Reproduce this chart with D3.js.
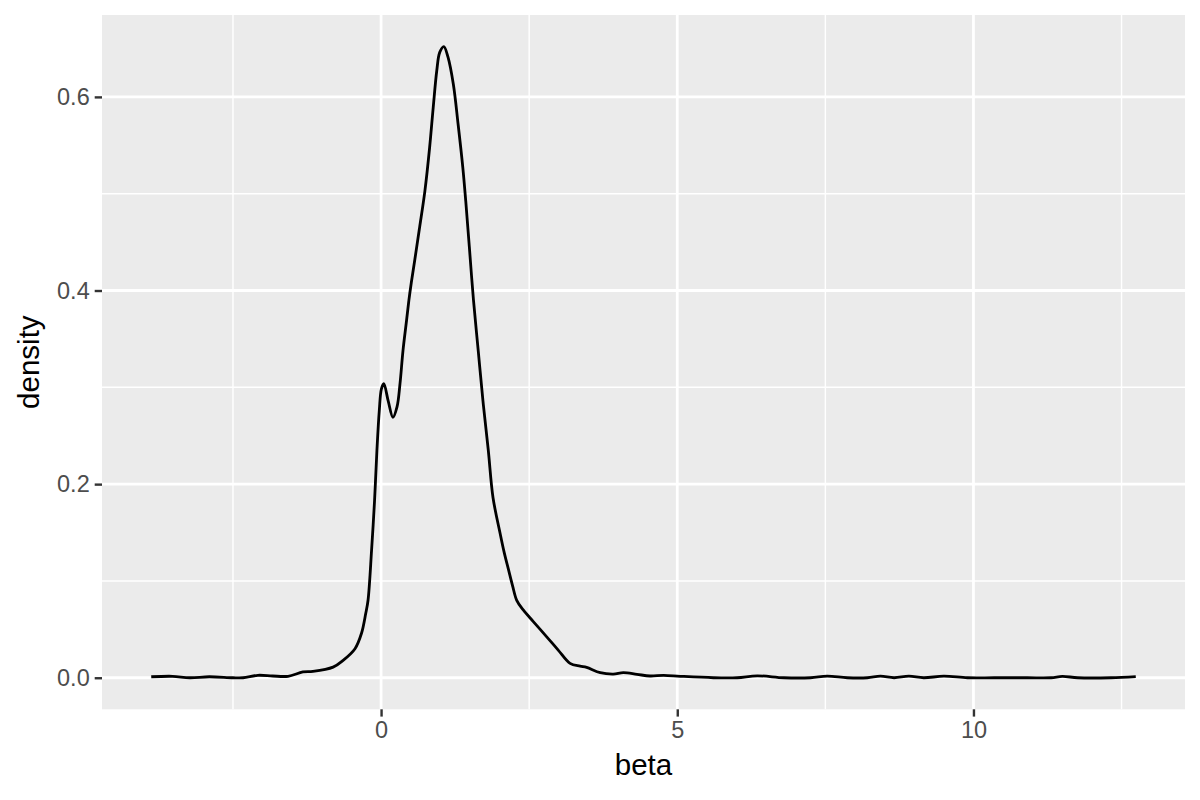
<!DOCTYPE html>
<html>
<head>
<meta charset="utf-8">
<script src="https://cdn.jsdelivr.net/npm/d3@7"></script>
<style>
  body { margin: 0; background: #fff; }
  svg { display: block; font-family: "Liberation Sans", Arial, sans-serif; }
</style>
</head>
<body>
<div id="chart"></div>
<script>
// Density estimate of beta.
const betaValues = [
  -3.88, -3.52, -3.23, -2.90, -2.50, -2.33, -2.08, -1.83, -1.57, -1.32,
  -1.15, -0.81, -0.64, -0.44, -0.33, -0.26, -0.22, -0.16, -0.11, -0.07,
  -0.03, 0.006, 0.046, 0.12, 0.20, 0.27, 0.32, 0.37, 0.43, 0.47,
  0.51, 0.57, 0.65, 0.74, 0.82, 0.88, 0.94, 0.99, 1.06, 1.13,
  1.22, 1.30, 1.38, 1.43, 1.49, 1.56, 1.64, 1.72, 1.81, 1.89,
  2.01, 2.08, 2.15, 2.22, 2.29, 2.40, 2.57, 2.80, 2.99, 3.19, 3.36,
  3.47, 3.70, 3.92, 4.09, 4.32, 4.54, 4.77, 5.05, 5.61, 6.01,
  6.35, 6.80, 7.25, 7.53, 7.87, 8.21, 8.43, 8.66, 8.91, 9.16,
  9.50, 9.90, 10.35, 10.91, 11.31, 11.50, 11.76, 12.32, 12.74
];
const densityValues = [
  0.001, 0.0015, 0.0, 0.001, 0.0, 0.0, 0.0025, 0.0018, 0.0015, 0.006,
  0.0066, 0.011, 0.018, 0.030, 0.046, 0.066, 0.080, 0.132, 0.183, 0.235,
  0.276, 0.2985, 0.3037, 0.286, 0.269, 0.280, 0.304, 0.338, 0.369, 0.390,
  0.408, 0.432, 0.465, 0.503, 0.548, 0.589, 0.627, 0.646, 0.652, 0.641,
  0.613, 0.572, 0.527, 0.492, 0.445, 0.390, 0.338, 0.286, 0.235, 0.186,
  0.149, 0.129, 0.112, 0.095, 0.080, 0.070, 0.058, 0.042, 0.0286, 0.0149, 0.012,
  0.0107, 0.0052, 0.0038, 0.0052, 0.0035, 0.0018, 0.0025, 0.0015, 0, 0,
  0.002, 0, 0, 0.0016, 0, 0, 0.0016, 0, 0.0016, 0,
  0.0016, 0, 0, 0, 0, 0.0014, 0, 0, 0.0012
];
const xMajorTicks = [0, 5, 10];
const xMinorTicks = [-2.5, 2.5, 7.5, 12.5];
const yMajorTicks = [0, 0.2, 0.4, 0.6];
const yMinorTicks = [0.1, 0.3, 0.5];
const xTitle = 'beta';
const yTitle = 'density';

const dataset = betaValues.map((b, i) => ({beta: b, density: densityValues[i]}));

// Set the dimensions and margins of the chart.
const totalWidth = 1200;
const totalHeight = 800;
const margin = {top: 15, right: 15, bottom: 90.7, left: 102};
const width = totalWidth - margin.left - margin.right;
const height = totalHeight - margin.top - margin.bottom;

const svg = d3.select('#chart')
  .append('svg')
    .attr('width', totalWidth)
    .attr('height', totalHeight)
  .append('g')
    .attr('transform', `translate(${margin.left},${margin.top})`);

// ggplot-like 5% expansion of the data range.
const expand = ([lo, hi]) => {
  const pad = (hi - lo) * 0.05;
  return [lo - pad, hi + pad];
};
const x = d3.scaleLinear()
  .range([0, width])
  .domain(expand(d3.extent(dataset, d => d.beta)));
const y = d3.scaleLinear()
  .range([height, 0])
  .domain(expand([0, d3.max(dataset, d => d.density)]));

// Panel background.
svg.append('rect')
  .attr('width', width)
  .attr('height', height)
  .attr('fill', '#EBEBEB');

// Grid lines.
const grid = svg.append('g');
grid.selectAll('.xminor').data(xMinorTicks.filter(t => t >= x.domain()[0] && t <= x.domain()[1]))
  .join('line')
    .attr('x1', d => x(d)).attr('x2', d => x(d))
    .attr('y1', 0).attr('y2', height)
    .attr('stroke', '#fff').attr('stroke-width', 1.4);
grid.selectAll('.yminor').data(yMinorTicks)
  .join('line')
    .attr('y1', d => y(d)).attr('y2', d => y(d))
    .attr('x1', 0).attr('x2', width)
    .attr('stroke', '#fff').attr('stroke-width', 1.4);
grid.selectAll('.xmajor').data(xMajorTicks)
  .join('line')
    .attr('x1', d => x(d)).attr('x2', d => x(d))
    .attr('y1', 0).attr('y2', height)
    .attr('stroke', '#fff').attr('stroke-width', 2.8);
grid.selectAll('.ymajor').data(yMajorTicks)
  .join('line')
    .attr('y1', d => y(d)).attr('y2', d => y(d))
    .attr('x1', 0).attr('x2', width)
    .attr('stroke', '#fff').attr('stroke-width', 2.8);

// The density line.
svg.append('path')
  .datum(dataset)
  .attr('fill', 'none')
  .attr('stroke', '#000')
  .attr('stroke-width', 2.8)
  .attr('stroke-linejoin', 'round')
  .attr('d', d3.line()
    .x(d => x(d.beta))
    .y(d => y(d.density))
    .curve(d3.curveCatmullRom.alpha(0.5))
  );

// Axes.
const xAxis = svg.append('g')
  .attr('transform', `translate(0,${height})`)
  .call(d3.axisBottom(x).tickValues(xMajorTicks).tickSize(7.3).tickPadding(5).tickFormat(d3.format('d')));
const yAxis = svg.append('g')
  .call(d3.axisLeft(y).tickValues(yMajorTicks).tickSize(7.3).tickPadding(5).tickFormat(d3.format('.1f')));
[xAxis, yAxis].forEach(g => {
  g.select('.domain').remove();
  g.selectAll('.tick line').attr('stroke', '#333333').attr('stroke-width', 2.4);
  g.selectAll('.tick text')
    .attr('fill', '#4D4D4D')
    .style('font-size', '23.5px')
    .style('font-family', '"Liberation Sans", Arial, sans-serif');
});

// Axis titles.
svg.append('text')
  .attr('x', width / 2)
  .attr('y', height + 66)
  .attr('text-anchor', 'middle')
  .style('font-size', '29.5px')
  .attr('fill', '#000')
  .text(xTitle);
svg.append('text')
  .attr('transform', `translate(${-63},${height / 2})rotate(-90)`)
  .attr('text-anchor', 'middle')
  .style('font-size', '29.5px')
  .attr('fill', '#000')
  .text(yTitle);
</script>
</body>
</html>
